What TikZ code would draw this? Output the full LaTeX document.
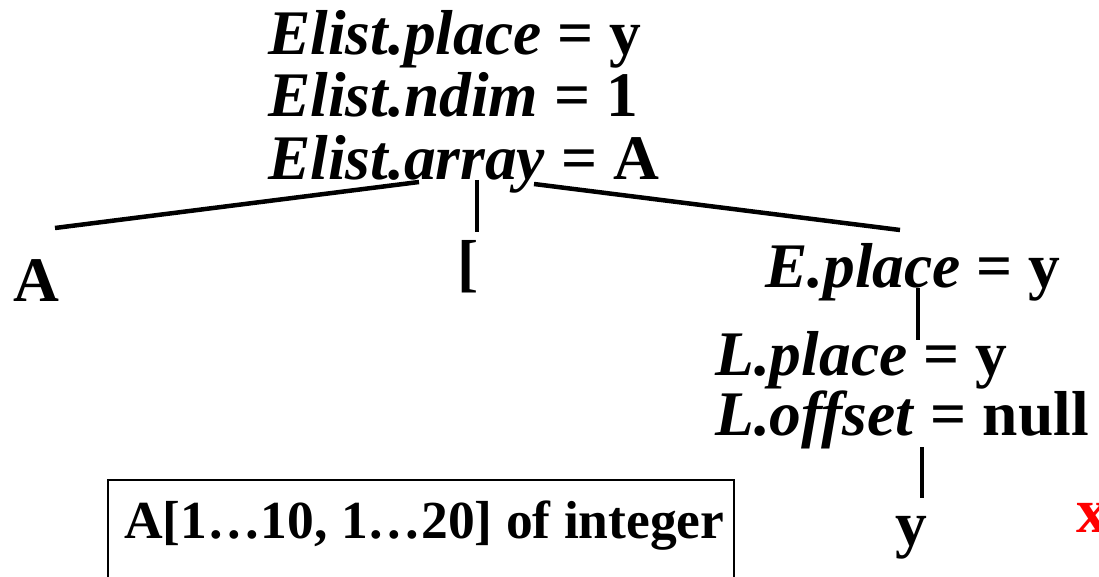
\documentclass[tikz,border=0pt]{standalone}
\usepackage{fontspec}
\setmainfont{Liberation Serif}
\definecolor{xred}{RGB}{255,0,0}
\begin{document}
\begin{tikzpicture}[x=1pt,y=-1pt,
  lbl/.style={inner sep=0pt, anchor=base west, font=\fontsize{63.5}{63.5}\selectfont\bfseries},
  decltext/.style={inner sep=0pt, anchor=base west, font=\fontsize{53.5}{53.5}\selectfont\bfseries},
  edge/.style={line width=4.5pt},
  frame/.style={draw, line width=2pt, inner sep=0pt, anchor=north west, minimum width=626pt, minimum height=140pt}
]
\clip (0,0) rectangle (1099,577);
% texts
\node[lbl] (ep) at (268,55) {\textit{Elist.place} = y};
\node[lbl] (en) at (268,117) {\textit{Elist.ndim} = 1};
\node[lbl] (ea) at (268,180) {\textit{Elist.array} = A};
\node[lbl] (a) at (13,301) {A};
\node[lbl] (br) at (457,284) {[};
\node[lbl] (e) at (765,287) {\textit{E.place} = y};
\node[lbl] (lp) at (715,375) {\textit{L.place} = y};
\node[lbl] (lo) at (715,435) {\textit{L.offset} = null};
\node[lbl] (y) at (895,545) {y};
\node[lbl, text=xred] (x) at (1076,532) {x};
% declaration box
\node[frame] (box) at (107,479) {};
\node[decltext] (decl) at (124,538) {A[1…10, 1…20] of integer};
% connector ends
\coordinate (eaL) at (419,182);
\coordinate (aT) at (55,228);
\coordinate (eaM) at (477,180);
\coordinate (brT) at (477,232);
\coordinate (eaR) at (534,184);
\coordinate (eT) at (900,230);
\coordinate (eB) at (918,288);
\coordinate (lpT) at (918,340);
\coordinate (loB) at (922,447);
\coordinate (yT) at (922,498);
% connectors
\draw[edge] (eaL) -- (aT);
\draw[edge] (eaM) -- (brT);
\draw[edge] (eaR) -- (eT);
\draw[edge] (eB) -- (lpT);
\draw[edge] (loB) -- (yT);
\end{tikzpicture}
\end{document}
